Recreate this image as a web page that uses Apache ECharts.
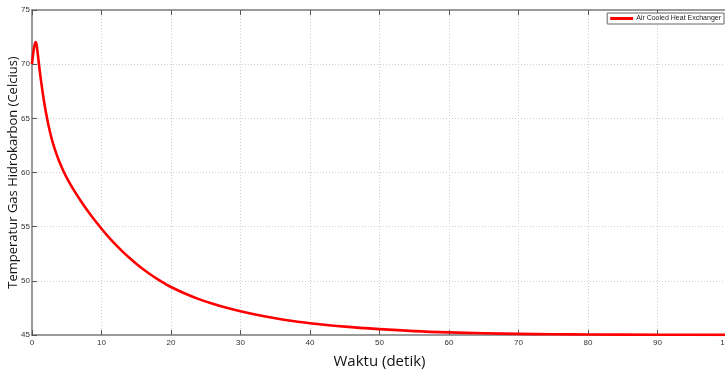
<!DOCTYPE html>
<html>
<head>
<meta charset="utf-8">
<script src="https://cdn.jsdelivr.net/npm/echarts@6/dist/echarts.min.js"></script>
<style>
  html, body { margin: 0; padding: 0; background: #fff; }
  #chart { width: 725px; height: 369px; }
</style>
</head>
<body>
<div id="chart"></div>
<script>
// Gas temperature leaving the air cooled heat exchanger over time
const waktu = [0, 0.15, 0.3, 0.45, 0.55, 0.65, 0.8, 1.0, 1.2, 1.5, 1.8, 2.2, 2.6, 3.0, 3.5, 4.0, 4.6, 5.2, 6, 7, 8, 9, 10,
  11, 12, 13, 14, 15, 16, 17, 18, 19, 20, 22, 24, 26, 28, 30, 32.5, 35, 37.5, 40, 45, 50, 55, 60, 65, 70, 75, 80, 90, 100];
const suhu = [70.0, 70.9, 71.55, 71.95, 72.05, 71.85, 71.1, 70.0, 68.95, 67.55, 66.3, 64.9, 63.72, 62.74, 61.74, 60.89, 60.02, 59.27, 58.39, 57.39, 56.47, 55.61, 54.81,
  54.06, 53.36, 52.72, 52.13, 51.58, 51.07, 50.61, 50.18, 49.79, 49.43, 48.83, 48.31, 47.88, 47.51, 47.19, 46.84, 46.55, 46.3, 46.09, 45.77, 45.54, 45.36, 45.24, 45.16, 45.1, 45.07, 45.05, 45.025, 45.012];
const xTicks = [0, 10, 20, 30, 40, 50, 60, 70, 80, 90, 100];
const yTicks = [45, 50, 55, 60, 65, 70, 75];
const seriesName = 'Air Cooled Heat Exchanger';

const chart = echarts.init(document.getElementById('chart'));
const tickFont = { fontFamily: '"Liberation Sans Narrow", "Liberation Sans", Arial, sans-serif', fontSize: 8, color: '#333' };
const gridLine = { show: true, lineStyle: { color: '#cfcfcf', type: [1, 2], width: 1 } };
const frameLine = { show: true, lineStyle: { color: '#9a9a9a', width: 2 } };
const tickIn = { show: true, inside: true, length: 5, lineStyle: { color: '#555', width: 1 } };
const titleFont = { fontFamily: '"Open Sans", "Noto Sans", sans-serif', color: '#111' };

chart.setOption({
  animation: false,
  grid: {
    left: 32, right: -2, top: 10, bottom: 34,
    outerBoundsMode: 'none', containLabel: false,
    show: true, borderColor: '#9a9a9a', borderWidth: 1.5
  },
  legend: {
    right: 1, top: 13,
    data: [seriesName],
    itemWidth: 23, itemHeight: 3, itemGap: 2,
    icon: 'rect',
    backgroundColor: '#fff',
    borderColor: '#666', borderWidth: 1, borderRadius: 0,
    padding: [2, 3, 2, 3],
    textStyle: { fontFamily: '"Liberation Sans Narrow", Arial, sans-serif', fontSize: 7, color: '#222', padding: [0, 0, 0, -2] }
  },
  xAxis: [{
    type: 'value', min: xTicks[0], max: xTicks[xTicks.length - 1], interval: 10,
    name: 'Waktu (detik)', nameLocation: 'middle', nameGap: 19, nameMoveOverlap: false,
    nameTextStyle: Object.assign({ fontSize: 15 }, titleFont),
    axisLine: frameLine, axisTick: tickIn,
    axisLabel: Object.assign({ margin: 4 }, tickFont),
    splitLine: gridLine
  }, {
    type: 'value', position: 'top', min: 0, max: 100, interval: 10,
    axisLine: frameLine, axisTick: tickIn, axisLabel: { show: false }, splitLine: { show: false }
  }],
  yAxis: [{
    type: 'value', min: yTicks[0], max: yTicks[yTicks.length - 1], interval: 5,
    name: 'Temperatur Gas Hidrokarbon (Celcius)', nameLocation: 'middle', nameGap: 12, nameMoveOverlap: false,
    nameTextStyle: Object.assign({ fontSize: 13 }, titleFont),
    axisLine: frameLine, axisTick: tickIn,
    axisLabel: Object.assign({ margin: 2 }, tickFont),
    splitLine: gridLine
  }],
  series: [{
    name: seriesName,
    type: 'line',
    data: waktu.map((t, i) => [t, suhu[i]]),
    smooth: 0.35,
    showSymbol: false,
    lineStyle: { color: '#ff0000', width: 2.6, join: 'round' },
    itemStyle: { color: '#ff0000' }
  }]
});
</script>
</body>
</html>
